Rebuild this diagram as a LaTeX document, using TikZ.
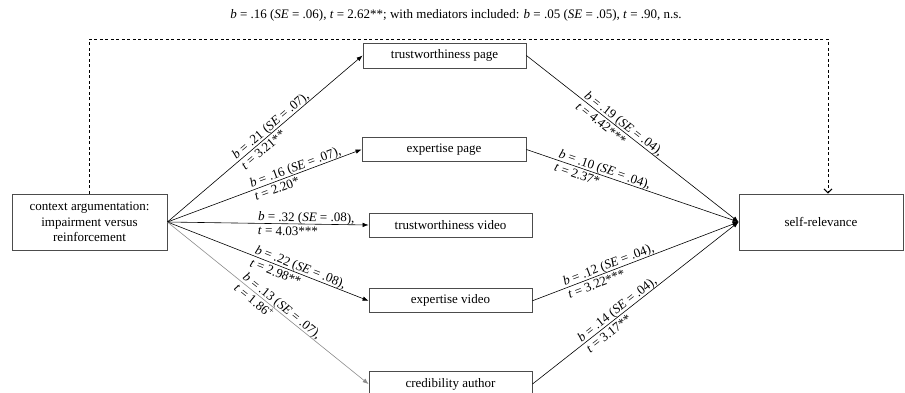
\documentclass[tikz,border=0pt]{standalone}
\usepackage{fontspec}
\setmainfont{Liberation Serif}
\usetikzlibrary{arrows.meta, positioning}

\begin{document}
\begin{tikzpicture}[
    x=1pt, y=-1pt,
    box/.style={rectangle, draw=black!70, line width=0.8pt, minimum width=163pt, minimum height=25pt, inner sep=2pt, align=center},
    coef/.style={sloped, align=left, inner sep=1pt, pos=#1},
    arrow/.style={-{Latex[length=6pt, width=4.5pt]}, line width=0.6pt},
    direct/.style={-{Straight Barb[length=4pt, width=8pt, line width=1pt]}, dash pattern=on 3pt off 2.5pt, line width=0.7pt},
    every node/.style={font=\fontsize{13}{14}\selectfont}
]
\useasboundingbox (0,0) rectangle (905,393);

% Predictor and outcome
\node[box, minimum width=155pt, minimum height=56pt, font=\fontsize{13}{15.5}\selectfont] (ctx) at (89.5,222) {context argumentation:\\ impairment versus\\ reinforcement};
\node[box, minimum width=164pt, minimum height=56pt] (rel) at (821,222) {self-relevance};

% Mediators
\node[box] (twpage) at (444.5,55.5) {trustworthiness page};
\node[box, minimum width=164pt, minimum height=24pt] (exppage) at (444,149.5) {expertise page};
\node[box, minimum height=24pt] (twvideo) at (450.5,225) {trustworthiness video};
\node[box, minimum height=24pt, below=51pt of twvideo] (expvideo) {expertise video};
\node[box, below=58pt of expvideo] (credauthor) {credibility author};

% Total effect
\node (total) at (456,15) {\textit{b} = .16 (\textit{SE} = .06), \textit{t} = 2.62**; with mediators included: \textit{b} = .05 (\textit{SE} = .05), \textit{t} = .90, n.s.};
\coordinate (top) at (456,39);
\draw[direct] (ctx.north) |- (top) -| ([xshift=7pt]rel.north);

% a paths
\draw[arrow] (ctx.east) -- node[coef=0.55] {\textit{b} = .21 (\textit{SE} = .07),\\ \textit{t} = 3.21**} (twpage.west);
\draw[arrow] (ctx.east) -- node[coef=0.67] {\textit{b} = .16 (\textit{SE} = .07),\\ \textit{t} = 2.20*} (exppage.west);
\draw[arrow] (ctx.east) -- node[coef=0.69] {\textit{b} = .32 (\textit{SE} = .08),\\ \textit{t} = 4.03***} (twvideo.west);
\draw[arrow] (ctx.east) -- node[coef=0.65] {\textit{b} = .22 (\textit{SE} = .08),\\ \textit{t} = 2.98**} (expvideo.west);
\draw[arrow, draw=black!45] (ctx.east) -- node[coef=0.55] {\textit{b} = .13 (\textit{SE} = .07),\\ \textit{t} = 1.86\textsuperscript{+}} (credauthor.west);

% b paths
\draw[arrow] (twpage.east) -- node[coef=0.44] {\textit{b} = .19 (\textit{SE} = .04),\\ \textit{t} = 4.42***} (rel.west);
\draw[arrow] (exppage.east) -- node[coef=0.36] {\textit{b} = .10 (\textit{SE} = .04),\\ \textit{t} = 2.37*} (rel.west);
\draw[arrow] (expvideo.east) -- node[coef=0.38] {\textit{b} = .12 (\textit{SE} = .04),\\ \textit{t} = 3.22***} (rel.west);
\draw[arrow] (credauthor.east) -- node[coef=0.43] {\textit{b} = .14 (\textit{SE} = .04),\\ \textit{t} = 3.17**} (rel.west);

\end{tikzpicture}
\end{document}
